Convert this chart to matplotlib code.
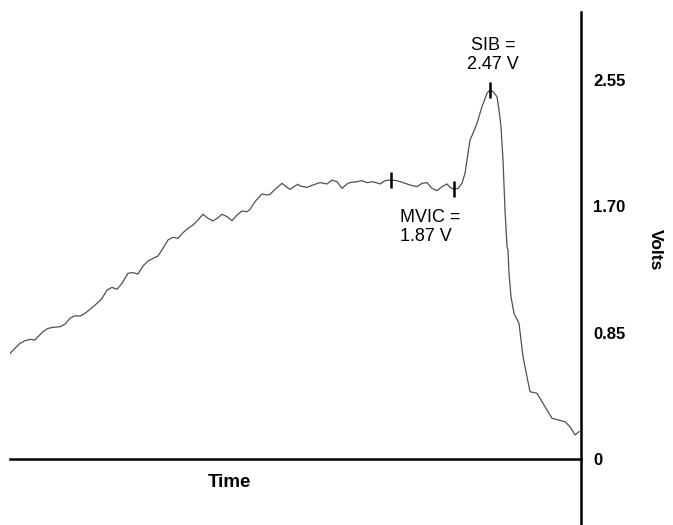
import matplotlib
matplotlib.use("Agg")
import matplotlib.pyplot as plt
import numpy as np

plt.rcParams['font.family'] = ['Liberation Sans', 'DejaVu Sans']

# Time (arbitrary units) and force signal (Volts)
time = [0, 5, 10, 15, 20, 25, 28, 33, 38, 43, 50, 55, 60, 65, 70, 75, 80, 85, 90, 93,
        97, 102, 107, 112, 118, 123, 128, 133, 138, 143, 148, 153, 158, 163, 168, 173,
        178, 183, 188, 193, 198, 203, 208, 212, 217, 222, 227, 232, 237, 240, 245, 252,
        257, 260, 265, 272, 277, 280, 285, 288, 290, 297, 303, 310, 317, 322, 327, 332,
        337, 340, 347, 352, 357, 363, 370, 375, 381, 387, 393, 400, 407, 412, 417, 422,
        427, 432, 437, 440, 444, 448, 452, 455, 460, 463, 467, 472, 477, 480, 483, 487,
        489, 491, 493, 495, 497, 498, 499, 501, 504, 509, 513, 517, 520, 527, 535, 542,
        555, 560, 565, 569]
volts = [0.71, 0.745, 0.778, 0.796, 0.805, 0.801, 0.823, 0.857, 0.879, 0.886, 0.890,
         0.908, 0.947, 0.964, 0.962, 0.980, 1.007, 1.036, 1.065, 1.092, 1.137, 1.155,
         1.142, 1.182, 1.250, 1.254, 1.245, 1.299, 1.332, 1.350, 1.366, 1.418, 1.474,
         1.492, 1.485, 1.523, 1.552, 1.575, 1.608, 1.647, 1.620, 1.602, 1.624, 1.647,
         1.631, 1.604, 1.642, 1.669, 1.664, 1.680, 1.732, 1.783, 1.777, 1.781, 1.815,
         1.855, 1.828, 1.815, 1.837, 1.849, 1.837, 1.828, 1.844, 1.860, 1.851, 1.877,
         1.866, 1.821, 1.851, 1.860, 1.866, 1.873, 1.860, 1.866, 1.851, 1.873, 1.877,
         1.873, 1.860, 1.844, 1.833, 1.855, 1.860, 1.821, 1.806, 1.833, 1.851, 1.828,
         1.815, 1.821, 1.855, 1.922, 2.147, 2.192, 2.259, 2.371, 2.461, 2.483, 2.472,
         2.438, 2.349, 2.236, 2.012, 1.676, 1.429, 1.406, 1.250, 1.092, 0.980, 0.913,
         0.689, 0.554, 0.453, 0.442, 0.352, 0.274, 0.251, 0.217, 0.162, 0.184]

mvic_marks = [381, 444]
sib_mark = [480]
ytick_values = [0, 0.85, 1.70, 2.55]
ytick_labels = ['0', '0.85', '1.70', '2.55']

fig = plt.figure(figsize=(6.73, 5.25), dpi=100)
ax = fig.add_axes([10 / 673, 0.0, 571 / 673, 513 / 525])

ax.plot(time, volts, color='#505050', lw=0.9)

marks = mvic_marks + sib_mark
ax.plot(marks, np.interp(marks, time, volts), linestyle='none', marker='|',
        markersize=12, markeredgewidth=1.8, color='black')

ax.set_xlim(0, 571)
ax.set_ylim(-0.444, 3.008)

for s in ['left', 'top']:
    ax.spines[s].set_visible(False)
ax.spines['bottom'].set_position(('data', 0))
ax.spines['bottom'].set_linewidth(1.8)
ax.spines['right'].set_linewidth(1.8)

ax.set_xticks([])
ax.yaxis.tick_right()
ax.set_yticks(ytick_values)
ax.set_yticklabels(ytick_labels, fontsize=12, fontweight='bold')
ax.tick_params(axis='y', length=0, pad=9)

ax.text(219, -0.155, 'Time', ha='center', va='center', fontsize=13.5, fontweight='bold')
fig.text(655 / 673, 1 - 250 / 525, 'Volts', rotation=270, ha='center', va='center',
         fontsize=12.5, fontweight='bold')

ax.text(483, 2.72, 'SIB =\n2.47 V', ha='center', va='center', fontsize=13,
        linespacing=1.15)
ax.text(390, 1.56, 'MVIC =\n1.87 V', ha='left', va='center', fontsize=13,
        linespacing=1.15)

fig.savefig('out.png', dpi=100)
